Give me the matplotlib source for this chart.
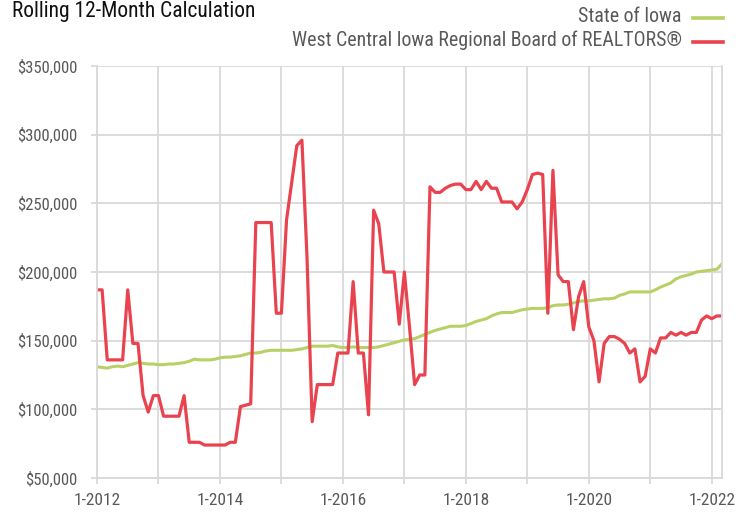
import matplotlib.pyplot as plt

# monthly values, 1-2012 through 3-2022 (in $1,000)
iowa = [131, 130.5, 130, 131, 131.5, 131, 132, 133, 134, 133.5, 133, 133,
        132.5, 132.5, 133, 133, 133.5, 134, 135, 136.5, 136, 136, 136, 136.5,
        137.5, 138, 138, 138.5, 139, 140, 141, 141, 141.5, 142.5, 143, 143,
        143, 143, 143, 143.5, 144, 145, 146, 146, 146, 146, 146.5, 145.5,
        145, 145, 145.5, 145, 145, 145, 145, 145.5, 146.5, 147.5, 148.5, 149.5,
        150.5, 151, 151.5, 153, 154.5, 156, 157.5, 158.5, 159.5, 160.5, 160.5, 160.5,
        161, 162.5, 164, 165, 166, 168, 169.5, 170.5, 170.5, 170.5, 171.5, 172.5,
        173, 173.5, 173.5, 173.5, 174, 175.5, 176, 176, 176.5, 177.5, 178.5, 179,
        179, 179.5, 180, 180.5, 180.5, 181, 183, 184, 185.5, 185.5, 185.5, 185.5,
        185.5, 187, 189, 190.5, 192, 195, 196.5, 197.5, 198.5, 200, 200.5, 201,
        201.5, 202, 206]

wcirb = [187, 187, 136, 136, 136, 136, 187, 148, 148, 110, 98, 110,
         110, 95, 95, 95, 95, 110, 76, 76, 76, 74, 74, 74,
         74, 74, 76, 76, 102, 103, 104, 236, 236, 236, 236, 170,
         170, 238, 265, 292, 296, 210, 91, 118, 118, 118, 118, 141,
         141, 141, 193, 141, 141, 96, 245, 235, 200, 200, 200, 162,
         200, 160, 118, 125, 125, 262, 258, 258, 261, 263, 264, 264,
         260, 260, 266, 260, 266, 261, 261, 251, 251, 251, 246, 251,
         260, 271, 272, 271, 170, 274, 198, 193, 193, 158, 182, 193,
         160, 150, 120, 148, 153, 153, 151, 148, 141, 144, 120, 124,
         144, 141, 152, 152, 156, 154, 156, 154, 156, 156, 165, 168,
         166, 168, 168]

year_ticks = list(range(0, 121, 12))
year_labels = ['1-2012', '', '1-2014', '', '1-2016', '', '1-2018', '', '1-2020', '', '1-2022']
y_ticks = [50000, 100000, 150000, 200000, 250000, 300000, 350000]

FONT = ['Roboto Condensed', 'Liberation Sans Narrow', 'Liberation Sans', 'DejaVu Sans']
GRID = '#d9d9d9'
TXT = '#595959'
GREEN = '#b8d167'
RED = '#e8434e'

fig = plt.figure(figsize=(7.48, 5.12), dpi=100)
ax = fig.add_axes([97 / 748, 1 - 478 / 512, 625 / 748, 412 / 512])

months = range(len(wcirb))
ax.plot(months, [v * 1000 for v in iowa], color=GREEN, linewidth=2.2, solid_joinstyle='round')
ax.plot(months, [v * 1000 for v in wcirb], color=RED, linewidth=2.3, solid_joinstyle='round')

ax.set_xlim(0, len(wcirb) - 1)
ax.set_ylim(50000, 350000)
ax.set_yticks(y_ticks)
ax.set_yticklabels([f'${v:,}' for v in y_ticks], family=FONT, fontsize=12, color=TXT)
ax.set_xticks(year_ticks)
ax.set_xticklabels(year_labels, family=FONT, fontsize=12.5, color=TXT)
ax.grid(True, color=GRID, linewidth=1.3)
ax.set_axisbelow(True)
ax.tick_params(axis='y', color=GRID, width=1.3, length=4.3, pad=10)
ax.tick_params(axis='x', color=GRID, width=1.3, length=4.3, pad=6.5)

for side in ['left', 'bottom', 'right']:
    ax.spines[side].set_color(GRID)
    ax.spines[side].set_linewidth(1.3)
ax.spines['top'].set_visible(False)

fig.text(12 / 748, 1 - 12 / 512, 'Rolling 12-Month Calculation', family=FONT,
         fontsize=15.5, color='#111111', ha='left', va='center')

# legend drawn by hand, right aligned like the original
fig.text(682 / 748, 1 - 17 / 512, 'State of Iowa', family=FONT, fontsize=14.3,
         color=TXT, ha='right', va='center')
fig.text(682 / 748, 1 - 40 / 512, 'West Central Iowa Regional Board of REALTORS®',
         family=FONT, fontsize=14.3, color=TXT, ha='right', va='center')
fig.add_artist(plt.Line2D([693 / 748, 723 / 748], [1 - 18.3 / 512, 1 - 18.3 / 512],
                          color=GREEN, linewidth=2.6))
fig.add_artist(plt.Line2D([693 / 748, 723 / 748], [1 - 41.7 / 512, 1 - 41.7 / 512],
                          color=RED, linewidth=2.6))

fig.savefig('out.png', dpi=100)
